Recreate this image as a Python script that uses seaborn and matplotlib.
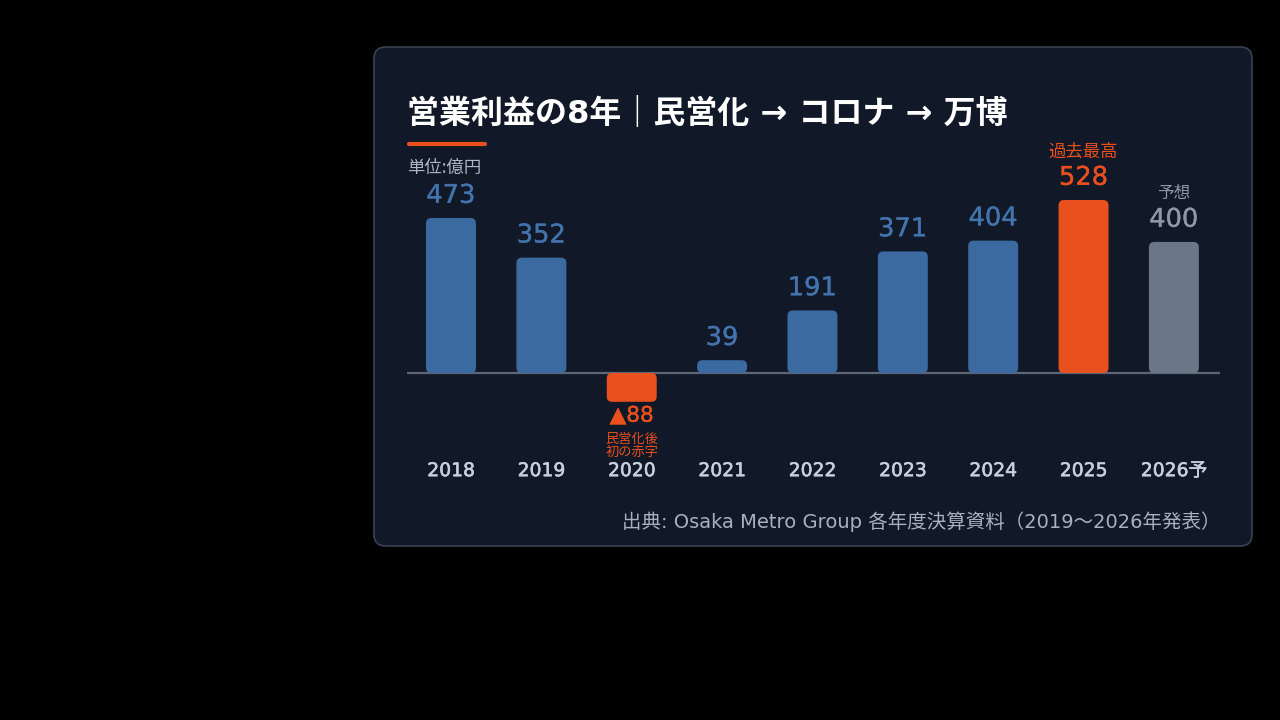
import matplotlib
matplotlib.use("Agg")
import matplotlib.pyplot as plt
import matplotlib.patheffects as pe
import seaborn as sns
from matplotlib.patches import FancyBboxPatch
from matplotlib.lines import Line2D

# data (億円)
years = ["2018", "2019", "2020", "2021", "2022", "2023", "2024", "2025", "2026予"]
profit = [473, 352, -88, 39, 191, 371, 404, 528, 400]
value_labels = ["473", "352", "▲88", "39", "191", "371", "404", "528", "400"]
bar_colors = ["#3b6aa0", "#3b6aa0", "#e8501e", "#3b6aa0", "#3b6aa0",
              "#3b6aa0", "#3b6aa0", "#e8501e", "#6b7686"]
label_colors = ["#4373ac", "#4373ac", "#e8501e", "#4373ac", "#4373ac",
                "#4373ac", "#4373ac", "#e8501e", "#8d97a6"]

sns.set_style("dark")
plt.rcParams["font.family"] = ["DejaVu Sans", "Noto Sans CJK JP"]
CJK = ["Noto Sans CJK JP", "DejaVu Sans"]

fig = plt.figure(figsize=(12.8, 7.2), dpi=100, facecolor="black")

# card background
card = FancyBboxPatch((374 / 1280, 1 - 546 / 720), (1252 - 374) / 1280, (546 - 47) / 720,
                      boxstyle="round,pad=0,rounding_size=0.009", mutation_aspect=1280 / 720,
                      transform=fig.transFigure, facecolor="#111827", edgecolor="#3a4252",
                      linewidth=1.2, zorder=-5)
fig.patches.append(card)

ax = fig.add_axes([407 / 1280, 0.3682, (1220 - 407) / 1280, 0.4232])
ax.set_facecolor("none")
ax.set_zorder(2)

sns.barplot(x=years, y=profit, hue=years, palette=bar_colors, legend=False,
            width=0.553, ax=ax, saturation=1, zorder=3)
ax.set_xlim(-0.487, 8.51)
ax.set_ylim(-250, 680)

# rounded bars
for p in list(ax.patches):
    x0, y0, w, h = p.get_x(), p.get_y(), p.get_width(), p.get_height()
    yb = min(y0, y0 + h)
    rb = FancyBboxPatch((x0, yb), w, abs(h), boxstyle="round,pad=0,rounding_size=0.06",
                        mutation_aspect=275, facecolor=p.get_facecolor(),
                        edgecolor="none", zorder=3)
    p.remove()
    ax.add_patch(rb)

ax.axhline(0, color="#5d6676", lw=1.6, zorder=2)

for s in ax.spines.values():
    s.set_visible(False)
ax.grid(False)
ax.set_yticks([])
ax.set_xlabel("")
ax.set_ylabel("")
ax.set_xticks(range(len(years)))
ax.set_xticklabels(years, fontsize=13.5, color="#c8d0dc")
ax.tick_params(axis="x", length=0, pad=4.5)
for lab in ax.get_xticklabels():
    lab.set_path_effects([pe.withStroke(linewidth=0.4, foreground="#c8d0dc")])

# value labels
for i, (v, t, c) in enumerate(zip(profit, value_labels, label_colors)):
    if v >= 0:
        ax.annotate(t, (i, v), xytext=(0, 16), textcoords="offset points",
                    ha="center", va="center", fontsize=18.5, color=c,
                    path_effects=[pe.withStroke(linewidth=0.25, foreground=c)])
    else:
        ax.annotate(t, (i, v), xytext=(0, -10), textcoords="offset points",
                    ha="center", va="center", fontsize=15.5, color=c,
                    path_effects=[pe.withStroke(linewidth=0.25, foreground=c)])
        ax.annotate("民営化後\n初の赤字", (i, v), xytext=(0, -31.5), textcoords="offset points",
                    ha="center", va="center", fontsize=9.5, color=c, linespacing=1.0,
                    family=CJK)

ax.annotate("過去最高", (7, profit[7]), xytext=(0, 34.5), textcoords="offset points",
            ha="center", va="center", fontsize=12.5, color="#e8501e", family=CJK)
ax.annotate("予想", (8, profit[8]), xytext=(0, 35), textcoords="offset points",
            ha="center", va="center", fontsize=12, color="#8d97a6", family=CJK)

# title + underline
fig.text(407 / 1280, 1 - 113 / 720, "営業利益の8年｜民営化 → コロナ → 万博",
         fontsize=23, fontweight="bold", color="white", va="center", ha="left")
fig.lines.append(Line2D([409 / 1280, 485 / 1280], [1 - 144 / 720] * 2, transform=fig.transFigure,
                        color="#e8501e", lw=3, solid_capstyle="round"))
fig.text(407 / 1280, 1 - 168 / 720, "単位:億円", fontsize=12.5, color="#aeb6c2",
         va="center", ha="left", family=CJK)
fig.text(1220 / 1280, 1 - 522 / 720,
         "出典: Osaka Metro Group 各年度決算資料（2019～2026年発表）",
         fontsize=14, color="#a7b1c0", va="center", ha="right")

fig.savefig("out.png", dpi=100, facecolor="black")
